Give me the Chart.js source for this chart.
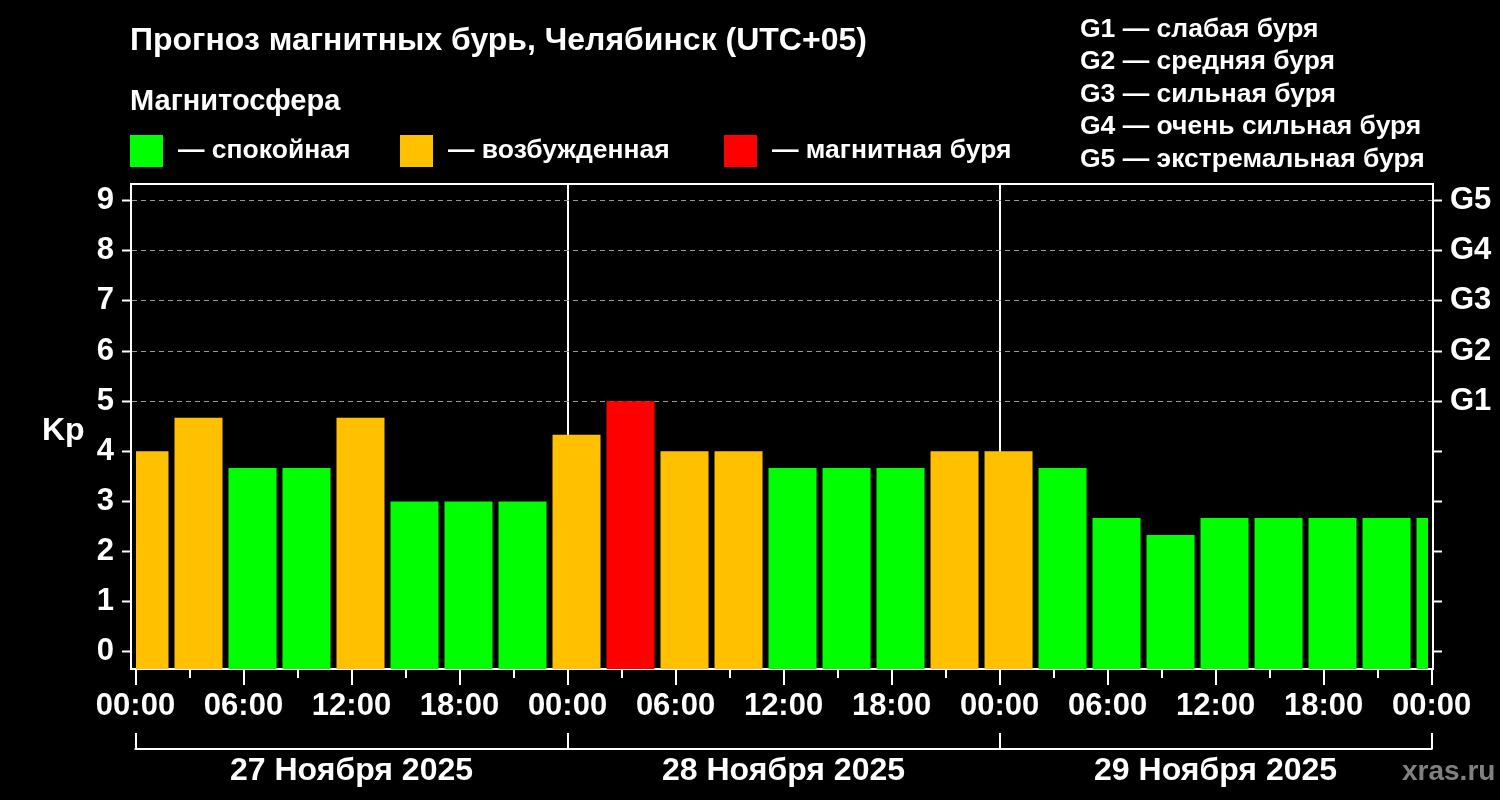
<!DOCTYPE html>
<html lang="ru">
<head>
<meta charset="utf-8">
<title>Прогноз магнитных бурь, Челябинск</title>
<script src="https://cdn.jsdelivr.net/npm/chart.js@4.4.1/dist/chart.umd.min.js"></script>
<style>
    html, body { margin: 0; padding: 0; background: #000; }
    #wrap { position: relative; width: 1500px; height: 800px; overflow: hidden;
            font-family: "Liberation Sans", Arial, sans-serif; font-weight: bold; color: #fff; }
    #chart { position: absolute; left: 0; top: 0; }
    .t { position: absolute; white-space: nowrap; line-height: 1; }
    .sq { position: absolute; width: 33px; height: 32px; }
    .g { font-size: 26.5px; left: 1080px; }
</style>
</head>
<body>
<div id="wrap">
    <canvas id="chart" width="1500" height="800"></canvas>

    <div class="t" style="left:130px; top:23px; font-size:32px;">Прогноз магнитных бурь, Челябинск (UTC+05)</div>
    <div class="t" style="left:130px; top:86px; font-size:29px;">Магнитосфера</div>

    <div class="sq" style="left:130px; top:135px; background:#00ff00;"></div>
    <div class="t" style="left:178px; top:136px; font-size:26.5px;">— спокойная</div>
    <div class="sq" style="left:400px; top:135px; background:#ffc000;"></div>
    <div class="t" style="left:448px; top:136px; font-size:26.5px;">— возбужденная</div>
    <div class="sq" style="left:724px; top:135px; background:#ff0000;"></div>
    <div class="t" style="left:772px; top:136px; font-size:26.5px;">— магнитная буря</div>

    <div class="t g" style="top:15px;">G1 — слабая буря</div>
    <div class="t g" style="top:47px;">G2 — средняя буря</div>
    <div class="t g" style="top:80px;">G3 — сильная буря</div>
    <div class="t g" style="top:112px;">G4 — очень сильная буря</div>
    <div class="t g" style="top:145px;">G5 — экстремальная буря</div>

    <div class="t" style="left:42px; top:413px; font-size:32px;">Kp</div>
    <div class="t" style="left:1402px; top:757px; font-size:28px; color:#808080;">xras.ru</div>
</div>

<script>
// начало 3-часовых интервалов, часы от 27.11 00:00 (местное время)
var barHours = [-1, 2, 5, 8, 11, 14, 17, 20, 23, 26, 29, 32, 35, 38, 41, 44, 47, 50, 53, 56, 59, 62, 65, 68, 71]
var kpValues = [4.0, 4.67, 3.67, 3.67, 4.67, 3.0, 3.0, 3.0, 4.33, 5.0, 4.0, 4.0, 3.67, 3.67, 3.67, 4.0, 4.0, 3.67, 2.67, 2.33, 2.67, 2.67, 2.67, 2.67, 2.67]

var hourTicks = [0, 6, 12, 18, 24, 30, 36, 42, 48, 54, 60, 66, 72]
var hourLabels = ["00:00", "06:00", "12:00", "18:00", "00:00", "06:00", "12:00", "18:00", "00:00", "06:00", "12:00", "18:00", "00:00"]
var minorTicks = [3, 9, 15, 21, 27, 33, 39, 45, 51, 57, 63, 69]
var dayBounds = [0, 24, 48, 72]
var dayLabels = ["27 Ноября 2025", "28 Ноября 2025", "29 Ноября 2025"]

var kpTicks = [0, 1, 2, 3, 4, 5, 6, 7, 8, 9]
var gLabels = ["", "", "", "", "", "G1", "G2", "G3", "G4", "G5"]

var xMin = -0.25, xMax = 72.08
var yMin = -0.34, yMax = 9.33

var fontFamily = '"Liberation Sans", Arial, sans-serif'

function colorKp(kp) {
    if (kp >= 5) return "#ff0000"
    if (kp >= 4) return "#ffc000"
    return "#00ff00"
}

var datos = []
for (let index = 0; index < kpValues.length; index++) {
    datos.push({x: barHours[index] + 1.5, y: kpValues[index]})
}

// рамка сверху, короткие засечки, скобки дней и подписи дат
var decor = {
    id: 'decor',
    afterDraw: function (chart) {
        var ctx = chart.ctx
        var area = chart.chartArea
        var x = chart.scales.x
        ctx.save()
        ctx.strokeStyle = "#fff"
        ctx.lineWidth = 2
        ctx.beginPath()
        ctx.moveTo(area.left - 1, area.top)
        ctx.lineTo(area.right + 1, area.top)
        minorTicks.forEach(function (h) {
            var px = Math.round(x.getPixelForValue(h))
            ctx.moveTo(px, area.bottom)
            ctx.lineTo(px, area.bottom + 9)
        })
        var yb = 749
        ctx.moveTo(x.getPixelForValue(0) - 1, yb)
        ctx.lineTo(x.getPixelForValue(72) + 1, yb)
        dayBounds.forEach(function (h) {
            var px = Math.round(x.getPixelForValue(h))
            ctx.moveTo(px, yb - 16)
            ctx.lineTo(px, yb)
        })
        ctx.stroke()

        ctx.fillStyle = "#fff"
        ctx.font = "bold 32px " + fontFamily
        ctx.textAlign = "center"
        ctx.textBaseline = "alphabetic"
        dayLabels.forEach(function (t, i) {
            ctx.fillText(t, x.getPixelForValue(dayBounds[i] + 12), 780)
        })
        ctx.restore()
    }
}

var tickFont = {family: fontFamily, size: 31, weight: 'bold'}

new Chart(document.getElementById('chart').getContext('2d'), {
    type: 'bar',
    data: {
        datasets: [{
            data: datos,
            backgroundColor: kpValues.map(colorKp),
            base: yMin,
            borderWidth: 0,
            barPercentage: 0.889,
            categoryPercentage: 1,
            clip: {left: -5, right: -5, top: 0, bottom: 0}
        }]
    },
    options: {
        responsive: false,
        animation: false,
        devicePixelRatio: 1,
        layout: {padding: {top: 184, left: 0, right: 0, bottom: 0}},
        plugins: {legend: {display: false}, tooltip: {enabled: false}},
        scales: {
            x: {
                type: 'linear',
                offset: false,
                min: xMin,
                max: xMax,
                afterBuildTicks: function (s) { s.ticks = hourTicks.map(function (v) { return {value: v} }) },
                afterFit: function (s) { s.height = 131 },
                grid: {
                    offset: false,
                    color: function (c) {
                        return c.tick && (c.tick.value === 24 || c.tick.value === 48) ? "#fff" : "transparent"
                    },
                    lineWidth: 2,
                    tickColor: "#fff",
                    tickLength: 16,
                    tickWidth: 2
                },
                border: {color: "#fff", width: 2},
                ticks: {
                    color: "#fff",
                    font: tickFont,
                    padding: 3,
                    maxRotation: 0,
                    autoSkip: false,
                    callback: function (v, i) { return hourLabels[i] }
                }
            },
            y: {
                position: 'left',
                min: yMin,
                max: yMax,
                afterBuildTicks: function (s) { s.ticks = kpTicks.map(function (v) { return {value: v} }) },
                afterFit: function (s) { s.width = 131 },
                grid: {
                    color: function (c) { return c.tick && c.tick.value >= 5 ? "#999" : "transparent" },
                    lineWidth: 1,
                    tickColor: "#fff",
                    tickLength: 9,
                    tickWidth: 2
                },
                border: {color: "#fff", width: 2, dash: [5, 4]},
                ticks: {color: "#fff", font: tickFont, padding: 8}
            },
            y2: {
                position: 'right',
                min: yMin,
                max: yMax,
                afterBuildTicks: function (s) { s.ticks = kpTicks.map(function (v) { return {value: v} }) },
                afterFit: function (s) { s.width = 67 },
                grid: {drawOnChartArea: false, tickColor: "#fff", tickLength: 9, tickWidth: 2},
                border: {color: "#fff", width: 2},
                ticks: {
                    color: "#fff",
                    font: tickFont,
                    padding: 8,
                    callback: function (v, i) { return gLabels[i] }
                }
            }
        }
    },
    plugins: [decor]
});
</script>
</body>
</html>
